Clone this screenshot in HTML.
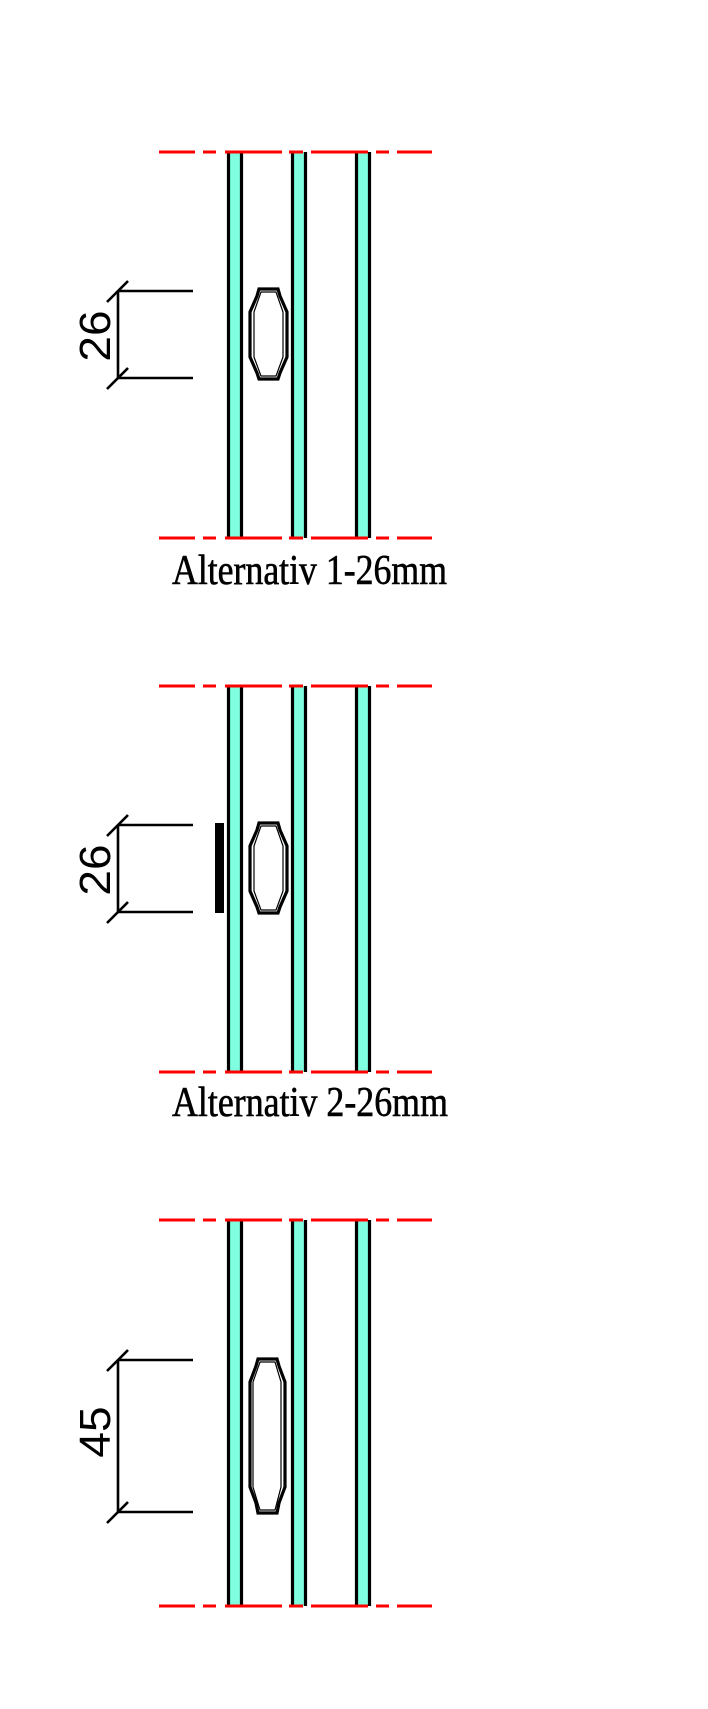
<!DOCTYPE html>
<html><head><meta charset="utf-8"><style>html,body{margin:0;padding:0;background:#fff}svg{display:block}</style></head>
<body>
<svg width="708" height="1709" viewBox="0 0 708 1709" xmlns="http://www.w3.org/2000/svg">
<defs>
<g id="frame">
  <g fill="#7fffdf">
    <rect x="227" y="152" width="16" height="386"/>
    <rect x="291" y="152" width="16" height="386"/>
    <rect x="355" y="152" width="16" height="386"/>
  </g>
  <g stroke="#000" stroke-width="3.2">
    <line x1="228.5" y1="152" x2="228.5" y2="538"/><line x1="241.5" y1="152" x2="241.5" y2="538"/>
    <line x1="292.5" y1="152" x2="292.5" y2="538"/><line x1="305.5" y1="152" x2="305.5" y2="538"/>
    <line x1="356.5" y1="152" x2="356.5" y2="538"/><line x1="369.5" y1="152" x2="369.5" y2="538"/>
  </g>
  <g stroke="#ff0000" stroke-width="3">
    <path d="M159 152H195M203 152H216M225 152H282M289 152H303M311 152H368M376 152H389M397 152H432"/>
    <path d="M159 538H195M203 538H216M225 538H282M289 538H303M311 538H368M376 538H389M397 538H432"/>
  </g>
</g>
<g id="dim26">
  <g stroke="#000" stroke-width="2.6" fill="none">
    <line x1="118" y1="291" x2="193" y2="291"/>
    <line x1="118" y1="378" x2="193" y2="378"/>
    <line x1="118" y1="291" x2="118" y2="378"/>
    <line x1="107" y1="302" x2="128" y2="281"/>
    <line x1="107" y1="389" x2="128" y2="368"/>
  </g>
  <text transform="translate(110,336) rotate(-90) scale(1.15,1.1)" text-anchor="middle" font-family="Liberation Sans, sans-serif" font-size="40" fill="#000">26</text>
</g>
<g id="spacer26">
  <path d="M259 289H278L280 296L287 312V357L280 373L278 379H259L257 373L250 357V312L257 296Z" fill="none" stroke="#000" stroke-width="3.2"/>
  <path d="M261 292H276L283 312V357L276 376H261L254 357V312Z" fill="none" stroke="#000" stroke-width="1.2"/>
</g>
</defs>

<use href="#frame"/>
<use href="#frame" transform="translate(0,534)"/>
<use href="#frame" transform="translate(0,1068)"/>

<use href="#dim26"/>
<use href="#spacer26"/>
<use href="#dim26" transform="translate(0,534)"/>
<use href="#spacer26" transform="translate(0,534)"/>
<rect x="215" y="823" width="9" height="90" fill="#000"/>

<g stroke="#000" stroke-width="2.6" fill="none">
  <line x1="118" y1="1360" x2="193" y2="1360"/>
  <line x1="118" y1="1512" x2="193" y2="1512"/>
  <line x1="118" y1="1360" x2="118" y2="1512"/>
  <line x1="107" y1="1371" x2="128" y2="1350"/>
  <line x1="107" y1="1523" x2="128" y2="1502"/>
</g>
<text transform="translate(110,1432) rotate(-90) scale(1.15,1.1)" text-anchor="middle" font-family="Liberation Sans, sans-serif" font-size="40" fill="#000">45</text>
<path d="M258 1359H277L279 1366L285 1382V1487L279 1503L277 1513H258L256 1503L250 1487V1382L256 1366Z" fill="none" stroke="#000" stroke-width="3.2"/>
<path d="M260 1362H275L281 1382V1487L275 1510H260L253 1487V1382Z" fill="none" stroke="#000" stroke-width="1.2"/>

<text x="172" y="584" textLength="275" lengthAdjust="spacingAndGlyphs" font-family="Liberation Serif, serif" font-size="42" fill="#000" stroke="#000" stroke-width="0.6">Alternativ 1-26mm</text>
<text x="172" y="1116" textLength="276" lengthAdjust="spacingAndGlyphs" font-family="Liberation Serif, serif" font-size="42" fill="#000" stroke="#000" stroke-width="0.6">Alternativ 2-26mm</text>
</svg>
</body></html>
